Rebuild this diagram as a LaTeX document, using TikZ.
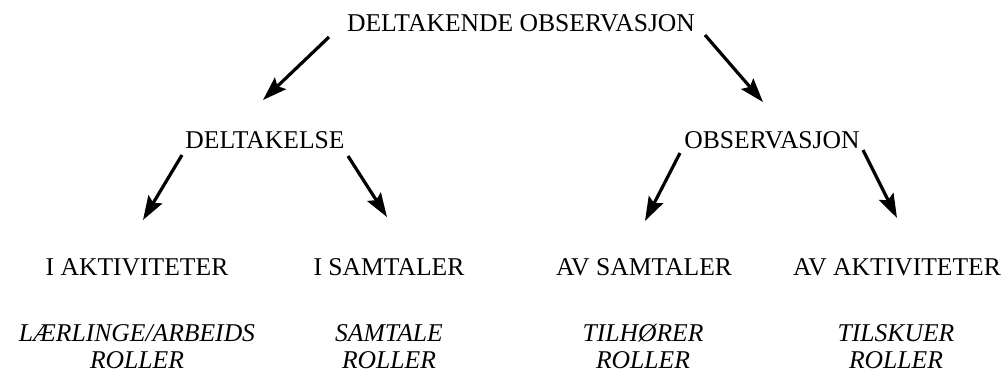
\documentclass[tikz,border=0pt]{standalone}
\usepackage{fontspec}
\setmainfont{Liberation Serif}
\usetikzlibrary{arrows.meta}
\begin{document}
\begin{tikzpicture}[x=0.5pt, y=-0.5pt,
    lbl/.style={anchor=base, inner sep=0pt, font=\fontsize{12.8}{13.5}\selectfont},
    role/.style={lbl, align=center, font=\fontsize{12.8}{13.5}\selectfont\itshape},
    arr/.style={line width=1.6pt, -{Stealth[length=12pt, width=8pt, inset=2pt]}}]
    \useasboundingbox (0,0) rectangle (1008,376);
    \node (deltobs) [lbl] at (521,31) {DELTAKENDE OBSERVASJON};
    \node (delt) [lbl] at (265,148) {DELTAKELSE};
    \node (obsv) [lbl] at (772,148) {OBSERVASJON};
    \node (iakt) [lbl] at (137,275) {I AKTIVITETER};
    \node (isamt) [lbl] at (389,275) {I SAMTALER};
    \node (avsamt) [lbl] at (644,275) {AV SAMTALER};
    \node (avakt) [lbl] at (897,275) {AV AKTIVITETER};
    % roles: base anchor sits on the last line
    \node (laerl) [role] at (137,368) {LÆRLINGE/ARBEIDS\\ROLLER};
    \node (samtr) [role] at (389,368) {SAMTALE\\ROLLER};
    \node (tilh) [role] at (643,368) {TILHØRER\\ROLLER};
    \node (tilsk) [role] at (896,368) {TILSKUER\\ROLLER};
    \draw[arr] ([shift={(-192,6)}]deltobs.base) -- ([shift={(-2,-48)}]delt.base);
    \draw[arr] ([shift={(184,4)}]deltobs.base) -- ([shift={(-9,-46)}]obsv.base);
    \draw[arr] ([shift={(-83,7)}]delt.base) -- ([shift={(6,-55)}]iakt.base);
    \draw[arr] ([shift={(83,8)}]delt.base) -- ([shift={(-2,-58)}]isamt.base);
    \draw[arr] ([shift={(-92,5)}]obsv.base) -- ([shift={(1,-54)}]avsamt.base);
    \draw[arr] ([shift={(91,2)}]obsv.base) -- ([shift={(0,-57)}]avakt.base);
  \end{tikzpicture}
\end{document}
